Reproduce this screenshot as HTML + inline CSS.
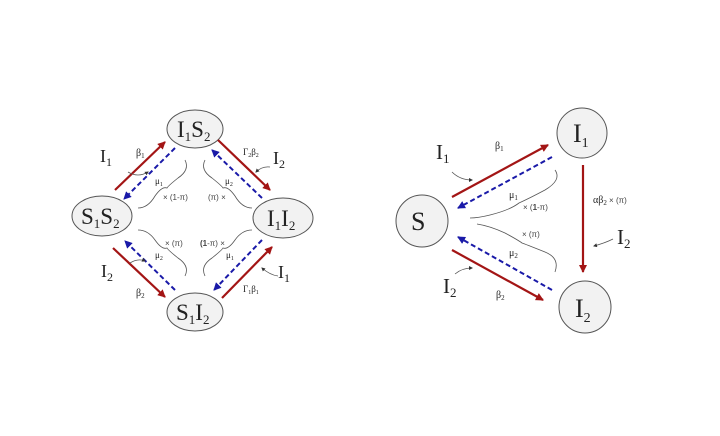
<!DOCTYPE html>
<html><head><meta charset="utf-8"><style>
html,body{margin:0;padding:0;background:#fff;}
svg{display:block}
text{font-family:"Liberation Serif",serif;fill:#222}
.s{font-family:"Liberation Sans",sans-serif;font-size:8px;fill:#444}
</style></head><body>
<svg width="720" height="436" viewBox="0 0 720 436" xmlns="http://www.w3.org/2000/svg">
<defs>
<marker id="r" markerWidth="8" markerHeight="8" refX="7" refY="4" orient="auto" markerUnits="userSpaceOnUse"><path d="M0,0 L8,4 L0,8 z" fill="#a31515"/></marker>
<marker id="b" markerWidth="8" markerHeight="8" refX="7" refY="4" orient="auto" markerUnits="userSpaceOnUse"><path d="M0,0 L8,4 L0,8 z" fill="#1a1aa8"/></marker>
<marker id="k" markerWidth="4" markerHeight="4" refX="3" refY="2" orient="auto" markerUnits="userSpaceOnUse"><path d="M0,0 L4,2 L0,4 z" fill="#333"/></marker>
</defs>
<g stroke="#555" stroke-width="1" fill="#f2f2f2">
<ellipse cx="195" cy="129" rx="28" ry="19"/>
<ellipse cx="102" cy="216" rx="30" ry="20"/>
<ellipse cx="283" cy="218" rx="30" ry="20"/>
<ellipse cx="195" cy="312" rx="28" ry="19"/>
<circle cx="422" cy="221" r="26"/>
<circle cx="582" cy="133" r="25"/>
<circle cx="585" cy="307" r="26"/>
</g>
<g stroke="#a31515" stroke-width="2.2" marker-end="url(#r)" fill="none">
<line x1="115" y1="190" x2="165" y2="142"/>
<line x1="113" y1="248" x2="165" y2="297"/>
<line x1="218" y1="140" x2="270" y2="190"/>
<line x1="222" y1="298" x2="272" y2="247"/>
<line x1="452" y1="197" x2="548" y2="145"/>
<line x1="452" y1="250" x2="543" y2="300"/>
<line x1="583" y1="165" x2="583" y2="272"/>
</g>
<g stroke="#1a1aa8" stroke-width="2" stroke-dasharray="5,3" marker-end="url(#b)" fill="none">
<line x1="175" y1="148" x2="124" y2="199"/>
<line x1="175" y1="290" x2="125" y2="241"/>
<line x1="262" y1="198" x2="212" y2="150"/>
<line x1="262" y1="240" x2="214" y2="290"/>
<line x1="552" y1="157" x2="458" y2="208"/>
<line x1="552" y1="290" x2="458" y2="237"/>
</g>
<g stroke="#555" stroke-width="0.8" fill="none">
<path d="M185,160 Q190,170 178,178 Q168,186 167,188 Q162,186 155,196 Q148,208 138,208"/>
<path d="M205,160 Q200,170 212,178 Q222,186 223,188 Q228,186 235,196 Q242,208 252,208"/>
<path d="M138,230 Q148,230 155,240 Q162,250 167,248 Q168,250 178,258 Q190,266 185,276"/>
<path d="M252,230 Q242,230 235,240 Q228,250 223,248 Q222,250 212,258 Q200,266 205,276"/>
<path d="M555,170 Q562,180 545,190 Q530,198 519,203 Q510,210 490,215 Q478,218 470,218"/>
<path d="M477,224 Q490,226 505,233 Q518,240 522,243 Q530,246 545,252 Q560,258 555,272"/>
<path d="M128,172 Q138,178 148,172" marker-end="url(#k)"/>
<path d="M130,263 Q138,258 145,261" marker-end="url(#k)"/>
<path d="M270,167 Q262,166 256,172" marker-end="url(#k)"/>
<path d="M278,276 Q270,275 262,268" marker-end="url(#k)"/>
<path d="M452,172 Q460,180 472,180" marker-end="url(#k)"/>
<path d="M455,274 Q462,268 472,268" marker-end="url(#k)"/>
<path d="M613,239 Q605,243 594,246" marker-end="url(#k)"/>
</g>
<g font-size="18">
<text x="177" y="137" font-size="23">I<tspan font-size="13" dy="4">1</tspan><tspan dy="-4">S</tspan><tspan font-size="13" dy="4">2</tspan></text>
<text x="81" y="224" font-size="23">S<tspan font-size="13" dy="4">1</tspan><tspan dy="-4">S</tspan><tspan font-size="13" dy="4">2</tspan></text>
<text x="267" y="226" font-size="23">I<tspan font-size="13" dy="4">1</tspan><tspan dy="-4">I</tspan><tspan font-size="13" dy="4">2</tspan></text>
<text x="176" y="320" font-size="23">S<tspan font-size="13" dy="4">1</tspan><tspan dy="-4">I</tspan><tspan font-size="13" dy="4">2</tspan></text>
<text x="411" y="230" font-size="26">S</text>
<text x="573" y="142" font-size="26">I<tspan font-size="14" dy="5">1</tspan></text>
<text x="575" y="317" font-size="26">I<tspan font-size="14" dy="5">2</tspan></text>
<text x="100" y="162">I<tspan font-size="12" dy="4">1</tspan></text>
<text x="101" y="277">I<tspan font-size="12" dy="4">2</tspan></text>
<text x="273" y="164">I<tspan font-size="12" dy="4">2</tspan></text>
<text x="278" y="278">I<tspan font-size="12" dy="4">1</tspan></text>
<text x="436" y="159" font-size="21">I<tspan font-size="13" dy="4">1</tspan></text>
<text x="443" y="293" font-size="21">I<tspan font-size="13" dy="4">2</tspan></text>
<text x="617" y="244" font-size="21">I<tspan font-size="13" dy="4">2</tspan></text>
</g>
<g font-size="10">
<text x="136" y="156">β<tspan font-size="7" dy="2">1</tspan></text>
<text x="136" y="296">β<tspan font-size="7" dy="2">2</tspan></text>
<text x="243" y="155" font-size="9">Γ<tspan font-size="6" dy="2">2</tspan><tspan dy="-2">β</tspan><tspan font-size="6" dy="2">2</tspan></text>
<text x="243" y="292" font-size="9">Γ<tspan font-size="6" dy="2">1</tspan><tspan dy="-2">β</tspan><tspan font-size="6" dy="2">1</tspan></text>
<text x="155" y="184" font-size="9">μ<tspan font-size="6" dy="2">1</tspan></text>
<text x="225" y="184" font-size="9">μ<tspan font-size="6" dy="2">2</tspan></text>
<text x="155" y="258" font-size="9">μ<tspan font-size="6" dy="2">2</tspan></text>
<text x="226" y="258" font-size="9">μ<tspan font-size="6" dy="2">1</tspan></text>
<text x="495" y="149">β<tspan font-size="7" dy="2">1</tspan></text>
<text x="496" y="298">β<tspan font-size="7" dy="2">2</tspan></text>
<text x="509" y="198">μ<tspan font-size="7" dy="2">1</tspan></text>
<text x="509" y="256">μ<tspan font-size="7" dy="2">2</tspan></text>
<text x="593" y="203">αβ<tspan font-size="7" dy="2">2</tspan><tspan class="s" dy="-2" font-size="9"> × (π)</tspan></text>
</g>
<text class="s" x="163" y="200">× (1-π)</text>
<text class="s" x="208" y="200">(π) ×</text>
<text class="s" x="165" y="246">× (π)</text>
<text class="s" x="200" y="246"><tspan font-weight="bold">(1</tspan>-π) ×</text>
<text class="s" x="523" y="210" font-size="9">× (<tspan font-weight="bold">1</tspan>-π)</text>
<text class="s" x="522" y="237" font-size="9">× (π)</text>
</svg>
</body></html>
